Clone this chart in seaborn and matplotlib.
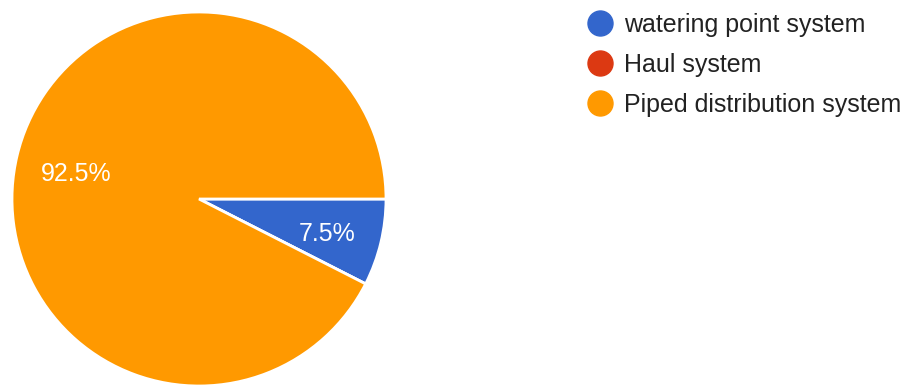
import matplotlib
matplotlib.use("Agg")
import matplotlib.pyplot as plt
from matplotlib.lines import Line2D
from matplotlib.transforms import offset_copy
import seaborn as sns

categories = ["watering point system", "Haul system", "Piped distribution system"]
shares = [7.5, 0.0, 92.5]
colors = ["#3366CC", "#DC3912", "#FF9900"]

sns.set_theme(style="white")
plt.rcParams["font.family"] = ["Liberation Sans", "DejaVu Sans"]

W, H = 906, 385
fig = plt.figure(figsize=(W / 100, H / 100), dpi=100)

# pie centred at (199, 199) px with radius 187 px
cx, cy, r = 199, 199, 187
ax = fig.add_axes([(cx - r) / W, (H - cy - r) / H, 2 * r / W, 2 * r / H])

def fmt(p):
    return f"{p:.1f}%" if p > 0 else ""

wedges, texts, autotexts = ax.pie(
    shares,
    colors=colors,
    startangle=0,
    counterclock=False,
    autopct=fmt,
    pctdistance=0.69,
    wedgeprops=dict(edgecolor="white", linewidth=2),
    textprops=dict(color="white", fontsize=18),
)
# nudge the percentage labels slightly right and down
for t in autotexts:
    t.set_transform(offset_copy(t.get_transform(), fig=fig, x=3, y=-5, units="dots"))
ax.set_xlim(-1, 1)
ax.set_ylim(-1, 1)
ax.set_aspect("equal")

handles = [
    Line2D([], [], linestyle="none", marker="o", markersize=18,
           markerfacecolor=c, markeredgecolor=c)
    for c in colors
]
fig.legend(
    handles, categories,
    loc="upper left",
    bbox_to_anchor=(587 / W, 1 - 13 / H),
    frameon=False,
    fontsize=18,
    handlelength=1.0,
    handletextpad=0.5,
    labelspacing=0.64,
    borderpad=0,
    borderaxespad=0,
    labelcolor="#222222",
)

fig.savefig("out.png", dpi=100, facecolor="white")
